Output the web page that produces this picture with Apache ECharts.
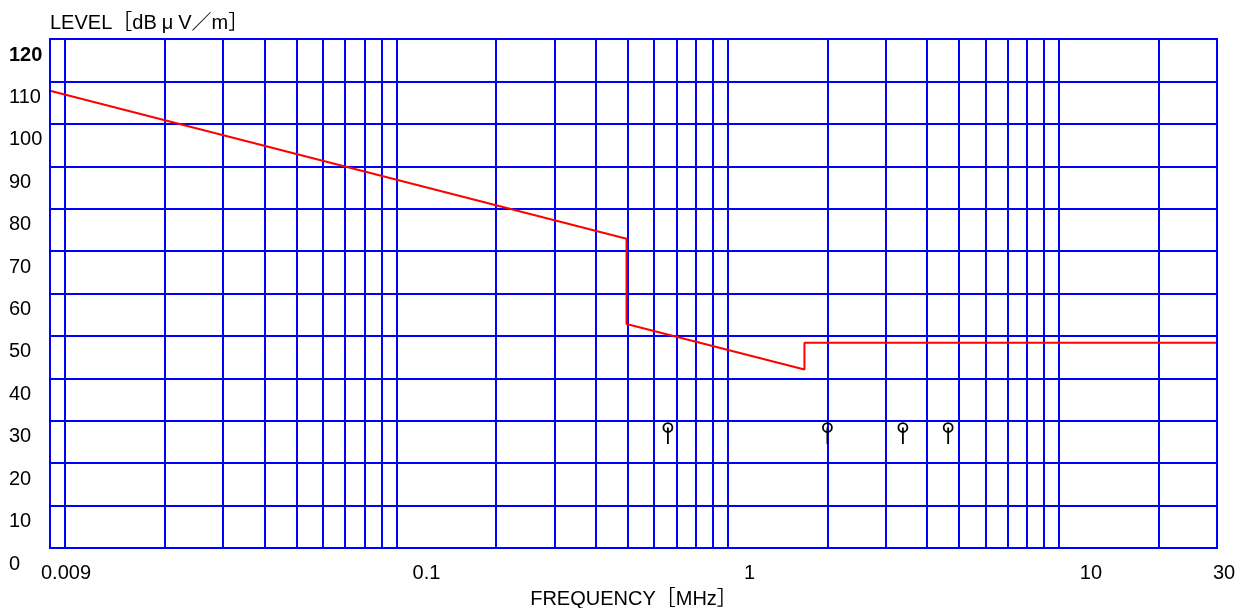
<!DOCTYPE html>
<html>
<head>
<meta charset="utf-8">
<script src="https://cdn.jsdelivr.net/npm/echarts@6/dist/echarts.min.js"></script>
<style>html,body{margin:0;padding:0;background:#fff;}#c{width:1250px;height:608px;}</style>
</head>
<body>
<div id="c"></div>
<script>
// ---- data ----
const freqTickLabels = ['0.009', '0.1', '1', '10', '30'];
const freqTickValues = [0.009, 0.1, 1, 10, 30];
const gridFreqs = [0.01,0.02,0.03,0.04,0.05,0.06,0.07,0.08,0.09,
                   0.1,0.2,0.3,0.4,0.5,0.6,0.7,0.8,0.9,
                   1,2,3,4,5,6,7,8,9,10,20];
const limitFreq = [0.009, 0.495, 0.495, 1.705, 1.705, 30];
const limitLevel = [107.8, 72.9, 52.8, 42.1, 48.4, 48.4];
const peakFreq = [0.66, 2.0, 3.38, 4.63];
const peakLevel = [28.4, 28.4, 28.4, 28.4];

const FONT = "'Liberation Sans', Arial, 'Noto Sans CJK JP', sans-serif";
const BLUE = '#0000ff';

// label shifts (rich padding) per tick label
const labelPad = {'0.009': 32, '0.1': 60, '1': 44, '10': 64, '30': 14};

const rich = {};
freqTickLabels.forEach((t, i) => {
  rich['t' + i] = {fontSize: 20, fontFamily: FONT, color: '#000', padding: [0, 0, 0, labelPad[t]]};
});

const chart = echarts.init(document.getElementById('c'), null, {renderer: 'canvas'});
chart.setOption({
  animation: false,
  backgroundColor: '#fff',
  grid: {left: 50, right: 33, top: 39, bottom: 60, containLabel: false, outerBoundsMode: 'none',
         show: true, borderColor: BLUE, borderWidth: 2, backgroundColor: 'transparent', z: 10},
  xAxis: {
    type: 'log', logBase: 10, min: 0.009, max: 30,
    name: 'FREQUENCY［MHz］', nameLocation: 'middle', nameGap: 41,
    nameTextStyle: {fontSize: 20, fontFamily: FONT, color: '#000'},
    axisLine: {show: false}, axisTick: {show: false}, splitLine: {show: false}, minorTick: {show: false},
    axisLabel: {
      showMinLabel: true, showMaxLabel: true, hideOverlap: false, margin: 15,
      align: 'center',
      formatter: function (v) {
        for (let i = 0; i < freqTickValues.length; i++) {
          if (Math.abs(Math.log10(v / freqTickValues[i])) < 0.005) {
            return '{t' + i + '|' + freqTickLabels[i] + '}';
          }
        }
        return '';
      },
      rich: rich
    }
  },
  yAxis: {
    type: 'value', min: 0, max: 120, interval: 10,
    name: 'LEVEL［dB{mu|μ}V／m］', nameLocation: 'end', nameGap: 6,
    nameTextStyle: {fontSize: 20, fontFamily: FONT, color: '#000', align: 'left', verticalAlign: 'bottom',
      rich: {mu: {fontSize: 20, fontFamily: FONT, color: '#000', padding: [0, 5, 0, 5]}}},
    axisLine: {show: false}, axisTick: {show: false},
    splitLine: {show: true, lineStyle: {color: BLUE, width: 2}},
    axisLabel: {
      align: 'left', margin: 41, verticalAlign: 'top', padding: [6, 0, 0, 0],
      fontSize: 20, fontFamily: FONT, color: '#000',
      formatter: function (v) { return v === 120 ? '{b|120}' : String(v); },
      rich: {b: {fontSize: 20, fontFamily: FONT, color: '#000', fontWeight: 'bold'}}
    }
  },
  series: [
    {
      name: 'grid', type: 'line', data: [], silent: true, z: 1,
      markLine: {
        silent: true, symbol: ['none', 'none'], label: {show: false},
        lineStyle: {color: BLUE, width: 2, type: 'solid'},
        emphasis: {disabled: true},
        data: gridFreqs.map(f => ({xAxis: f}))
      }
    },
    {
      name: 'limit', type: 'line', z: 5, symbol: 'none', silent: true,
      lineStyle: {color: '#ff0000', width: 2},
      data: limitFreq.map((f, i) => [f, limitLevel[i]])
    },
    {
      name: 'peaks', type: 'custom', z: 6, silent: true,
      encode: {x: 0, y: 1},
      renderItem: function (params, api) {
        const p = api.coord([api.value(0), api.value(1)]);
        return {
          type: 'group',
          children: [
            {type: 'circle', shape: {cx: p[0], cy: p[1], r: 4.5}, style: {fill: 'none', stroke: '#000', lineWidth: 1.8}},
            {type: 'line', shape: {x1: p[0], y1: p[1], x2: p[0], y2: p[1] + 16.5}, style: {stroke: '#000', lineWidth: 1.8}}
          ]
        };
      },
      data: peakFreq.map((f, i) => [f, peakLevel[i]])
    }
  ]
});
</script>
</body>
</html>
